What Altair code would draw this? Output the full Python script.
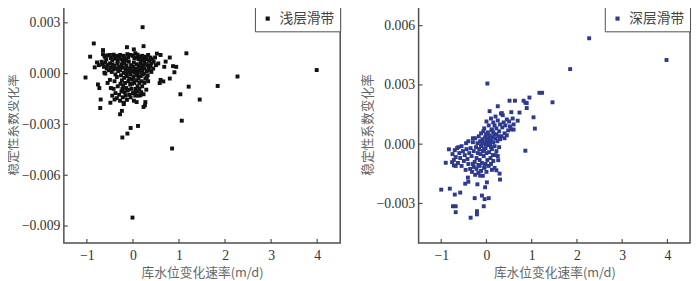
import altair as alt
import pandas as pd

# ---------------- data ----------------
# 浅层滑带: x = 库水位变化速率 (m/d), y = 稳定性系数变化率
shallow_x = [
    0.21, -0.85, -0.93, -1.03, 3.99, 2.27, 1.84, 1.45, 1.21, 1.03, 1.16, 1.06, 0.85, -0.01, 0.11, -0.05,
    -0.12, -0.23, -0.24, -0.28, -0.70, -0.71, -0.76, -0.73, 0.26, 0.23, 0.27, 0.08, -0.49, -0.40, -0.20,
    0.16, 0.23, 0.29, 0.60, 0.58, 0.80, 0.90, 0.87, 0.94, 0.80, 0.71, 0.68, 0.60, 0.52, 0.66, 0.02, -0.13,
    0.23, -0.65, -0.83, -0.78, -0.74, -0.60, -0.50,
    -0.65, -0.62, -0.60, -0.58, -0.55, -0.50, -0.48, -0.45, -0.42, -0.40, -0.38, -0.35, -0.33, -0.30, -0.28,
    -0.25, -0.22, -0.20, -0.18, -0.15, -0.12, -0.10, -0.05, 0.00, 0.03, 0.05, 0.08, 0.10, 0.12, 0.15, 0.18,
    0.20, 0.22, 0.25, 0.28, 0.30, 0.33, 0.35, 0.38, 0.40, 0.42, 0.45, 0.48, 0.50, 0.55, 0.32,
    -0.68, -0.66, -0.63, -0.60, -0.57, -0.55, -0.52, -0.50, -0.48, -0.46, -0.44, -0.42, -0.40, -0.38, -0.36,
    -0.34, -0.32, -0.30, -0.62,
    -0.28, -0.26, -0.25, -0.24, -0.22, -0.21, -0.20, -0.19, -0.18, -0.17, -0.16, -0.15, -0.14, -0.13, -0.12,
    -0.11, -0.10, -0.09, -0.08, -0.07, -0.06, -0.05, -0.04, -0.03, -0.02, -0.01, 0.00, 0.01, 0.02, 0.03,
    0.04, 0.05, 0.06, 0.07, 0.08, 0.09, 0.10, 0.11, 0.12, 0.13, 0.14, 0.15, 0.16, 0.17, 0.18, 0.19, 0.20,
    0.21, 0.22, 0.24, 0.25, 0.27, 0.28, 0.30, 0.32, 0.34, 0.36, 0.38, 0.40, 0.44, -0.27, -0.23, -0.18,
    -0.08, 0.00, 0.06, 0.12, -0.02, -0.10, 0.03, -0.06, 0.08, -0.15, 0.14,
    -0.45, -0.42, -0.38, -0.35, -0.33, -0.30, -0.28, -0.25, -0.22, -0.20, -0.16, -0.13, -0.10, -0.05, 0.02,
    0.05, 0.10, 0.14, 0.18, 0.20, 0.25, -0.55, -0.48, -0.40, -0.35, 0.33, 0.30,
]
shallow_y = [
    0.00274, 0.00178, 0.00100, -0.00023, 0.00021, -0.00017, -0.00073, -0.00153, -0.00077, -0.00122, 0.00120,
    -0.00278, -0.00442, -0.00850, -0.00309, -0.00321, -0.00354, -0.00377, -0.00220, -0.00240, -0.00153,
    -0.00203, -0.00064, -0.00085, -0.00187, -0.00197, -0.00168, -0.00168, -0.00172, -0.00153, -0.00172,
    -0.00128, -0.00122, -0.00095, -0.00037, -0.00056, -0.00029, 0.00008, 0.00044, 0.00040, 0.00095, 0.00071,
    0.00040, 0.00110, 0.00118, -0.00046, 0.00143, 0.00156, 0.00162, 0.00139, 0.00037, 0.00066, 0.00050,
    0.00000, -0.00037,
    0.00115, 0.00105, 0.00095, 0.00085, 0.00108, 0.00110, 0.00092, 0.00080, 0.00112, 0.00100, 0.00088,
    0.00105, 0.00075, 0.00095, 0.00110, 0.00085, 0.00070, 0.00105, 0.00092, 0.00080, 0.00115, 0.00095,
    0.00110, 0.00105, 0.00090, 0.00120, 0.00095, 0.00112, 0.00085, 0.00100, 0.00078, 0.00105, 0.00090,
    0.00070, 0.00100, 0.00085, 0.00110, 0.00075, 0.00095, 0.00060, 0.00085, 0.00070, 0.00095, 0.00050,
    0.00060, 0.00050,
    0.00070, 0.00055, 0.00040, 0.00065, 0.00030, 0.00050, 0.00020, 0.00060, 0.00035, 0.00010, 0.00055,
    0.00025, 0.00045, -0.00005, 0.00030, 0.00060, 0.00015, 0.00040, 0.00005,
    0.00020, -0.00010, 0.00055, -0.00040, 0.00035, -0.00070, 0.00005, -0.00025, 0.00060, -0.00055, 0.00025,
    -0.00085, 0.00045, -0.00015, -0.00100, 0.00010, -0.00045, 0.00070, -0.00030, 0.00030, -0.00065,
    -0.00005, 0.00050, -0.00090, 0.00015, -0.00035, 0.00040, -0.00020, 0.00065, -0.00055, 0.00005,
    -0.00110, 0.00030, -0.00040, 0.00055, -0.00010, -0.00075, 0.00020, -0.00030, 0.00045, -0.00055,
    0.00010, 0.00060, -0.00015, 0.00035, -0.00045, 0.00020, -0.00005, 0.00050, 0.00000, 0.00030, -0.00030,
    0.00055, 0.00015, -0.00010, 0.00035, 0.00020, 0.00045, 0.00010, 0.00030, -0.00060, -0.00090, -0.00110,
    -0.00125, -0.00115, -0.00090, -0.00130, -0.00060, 0.00020, 0.00025, 0.00010, 0.00000, 0.00000, 0.00025,
    -0.00130, -0.00090, -0.00115, -0.00145, -0.00075, -0.00125, -0.00160, -0.00105, -0.00140, -0.00180,
    -0.00130, -0.00155, -0.00095, -0.00140, -0.00160, -0.00130, -0.00105, -0.00090, -0.00110, -0.00075,
    -0.00055, -0.00055, -0.00085, -0.00045, -0.00020, -0.00045, -0.00025,
]

# 深层滑带
deep_x = [
    2.27, 3.98, 1.85, 0.02, 1.17, 1.23, 1.46, 0.95, 0.51, 0.63, 0.82, 0.86, 0.89, 0.89, 1.04, 1.07, 0.86,
    0.25, 0.07, 0.34, 0.36, 0.55, 0.73, 0.69, 0.60,
    -1.00, -0.81, -0.70, -0.58, -0.74, -0.68, -0.68, -0.35, -0.26, -0.21, -0.21, -0.10, -0.06, -0.04, 0.05,
    -0.03, 0.01, -0.47, -0.40, -0.41, -0.20, -0.14, 0.22, 0.29, 0.30, 0.26, -0.83, -0.90, -0.76, -0.72,
    0.10, 0.15, 0.18, 0.20, 0.22, 0.25, 0.28, 0.30, 0.32, 0.35, 0.38, 0.40, 0.42, 0.45, 0.48, 0.50, 0.52,
    0.55, 0.33, 0.40, 0.30, 0.45, 0.60, 0.58, 0.22, 0.15, 0.05, 0.00, -0.05, 0.12,
    -0.35, -0.33, -0.30, -0.28, -0.26, -0.25, -0.23, -0.22, -0.20, -0.19, -0.18, -0.17, -0.16, -0.15, -0.14,
    -0.13, -0.12, -0.11, -0.10, -0.09, -0.08, -0.07, -0.06, -0.05, -0.04, -0.03, -0.02, -0.01, 0.00, 0.01,
    0.02, 0.03, 0.04, 0.05, 0.06, 0.07, 0.08, 0.09, 0.10, 0.11, 0.12, 0.13, 0.14, 0.15, 0.17, 0.18, 0.20,
    0.22, 0.24, 0.25, 0.27, 0.28, -0.02, 0.03, -0.08, 0.00, 0.06, -0.12, 0.10, -0.05,
    -0.75, -0.72, -0.70, -0.68, -0.65, -0.63, -0.60, -0.58, -0.55, -0.52, -0.50, -0.48, -0.46, -0.44, -0.42,
    -0.40, -0.38, -0.36, -0.55, -0.62, -0.45, -0.40, -0.30, -0.68,
    -0.32, -0.28, -0.25, -0.22, -0.18, -0.15, -0.12, -0.08, -0.05, 0.00, 0.05, 0.10, 0.15, 0.18, 0.20,
    -0.30, -0.02, 0.12,
]
deep_y = [
    0.00536, 0.00426, 0.00380, 0.00307, 0.00260, 0.00260, 0.00212, 0.00236, 0.00220, 0.00220, 0.00220,
    0.00210, 0.00208, 0.00183, 0.00136, 0.00079, -0.00033, 0.00192, 0.00167, 0.00157, 0.00147, 0.00162,
    0.00160, 0.00119, 0.00074,
    -0.00230, -0.00225, -0.00255, -0.00245, -0.00314, -0.00314, -0.00344, -0.00372, -0.00273, -0.00339,
    -0.00355, -0.00260, -0.00314, -0.00278, -0.00273, -0.00218, -0.00193, -0.00200, -0.00190, -0.00169,
    -0.00203, -0.00159, -0.00132, -0.00149, -0.00179, -0.00081, -0.00026, -0.00094, -0.00091, -0.00107,
    0.00130, 0.00110, 0.00095, 0.00140, 0.00080, 0.00120, 0.00065, 0.00100, 0.00155, 0.00085, 0.00110,
    0.00055, 0.00095, 0.00125, 0.00070, 0.00115, 0.00090, 0.00075, 0.00040, 0.00030, 0.00025, 0.00045,
    0.00100, 0.00130, 0.00050, 0.00060, 0.00095, 0.00115, 0.00080, 0.00075,
    -0.00020, -0.00060, 0.00010, -0.00035, -0.00090, 0.00030, -0.00015, -0.00070, 0.00005, -0.00045,
    -0.00105, 0.00040, -0.00025, -0.00080, 0.00015, -0.00050, 0.00055, -0.00010, -0.00095, 0.00025,
    -0.00035, 0.00065, -0.00060, 0.00005, -0.00115, 0.00035, -0.00020, 0.00050, -0.00045, 0.00015,
    -0.00080, 0.00060, -0.00005, 0.00030, -0.00040, 0.00045, 0.00000, -0.00070, 0.00020, 0.00070,
    -0.00025, 0.00035, -0.00055, 0.00010, 0.00050, -0.00010, 0.00030, -0.00035, 0.00015, -0.00060,
    0.00040, -0.00015, 0.00000, 0.00010, 0.00010, 0.00025, 0.00005, -0.00005, -0.00015, -0.00025,
    -0.00050, -0.00080, -0.00030, -0.00065, -0.00020, -0.00095, -0.00045, -0.00070, -0.00110, -0.00035,
    -0.00085, -0.00055, -0.00130, -0.00025, -0.00075, -0.00100, -0.00045, -0.00125, -0.00010, -0.00015,
    0.00005, 0.00015, 0.00030, -0.00110,
    -0.00140, -0.00115, -0.00155, -0.00125, -0.00145, -0.00110, -0.00135, -0.00160, -0.00120, -0.00140,
    -0.00110, -0.00100, -0.00085, -0.00120, -0.00055, -0.00100, -0.00100, -0.00130,
]

x_ticks = [-1, 0, 1, 2, 3, 4]
y_ticks_shallow = [0.003, 0.0, -0.003, -0.006, -0.009]
y_ticks_deep = [0.006, 0.003, 0.0, -0.003]

X_TITLE = "库水位变化速率(m/d)"
Y_TITLE = "稳定性系数变化率"
H = 242
FRAME = "#4d4d4d"


def panel(xs, ys, name, color, ydom, yticks, width):
    df = pd.DataFrame({"x": xs, "y": ys, "series": [name] * len(xs)})
    xscale = alt.Scale(domain=[-1.5, 4.5], nice=False, zero=False)
    yscale = alt.Scale(domain=ydom, nice=False, zero=False)
    xaxis = alt.Axis(values=x_ticks, format="d", title=X_TITLE)
    yaxis = alt.Axis(values=yticks, format=".3f", title=Y_TITLE)

    pts = alt.Chart(df).mark_square(size=16, opacity=1).encode(
        x=alt.X("x:Q", scale=xscale, axis=xaxis),
        y=alt.Y("y:Q", scale=yscale, axis=yaxis),
        color=alt.Color(
            "series:N",
            scale=alt.Scale(domain=[name], range=[color]),
            legend=alt.Legend(
                title=None, orient="top-right", offset=0, strokeColor=FRAME, fillColor="white",
                padding=6, symbolType="square", symbolSize=18, labelFont="Noto Sans CJK SC",
                labelFontSize=14, labelColor="#444", labelOffset=5,
            ),
        ),
    )
    xt = alt.Chart(pd.DataFrame({"x": x_ticks})).mark_rule(color=FRAME, strokeWidth=1.2).encode(
        x=alt.X("x:Q", scale=xscale, axis=xaxis), y=alt.value(H), y2=alt.value(H - 4)
    )
    yt = alt.Chart(pd.DataFrame({"y": yticks})).mark_rule(color=FRAME, strokeWidth=1.2).encode(
        y=alt.Y("y:Q", scale=yscale, axis=yaxis), x=alt.value(0), x2=alt.value(4)
    )
    return alt.layer(pts, xt, yt).properties(width=width, height=H)


left = panel(shallow_x, shallow_y, "浅层滑带", "#111111", [-0.010, 0.004], y_ticks_shallow, 282)
right = panel(deep_x, deep_y, "深层滑带", "#2e3a8f", [-0.005, 0.007], y_ticks_deep, 277)

chart = alt.hconcat(left, right, spacing=18).resolve_scale(color="independent").properties(
    padding={"left": -3, "top": -7, "right": 0, "bottom": 0}
).configure_view(stroke=FRAME, strokeWidth=1.5).configure_legend(
    labelFontSize=14, labelFont="Noto Sans CJK SC"
).configure_axis(
    domain=False, ticks=False, grid=False,
    labelFont="Liberation Serif", labelFontSize=14, labelColor="#333",
    titleFont="Noto Sans CJK SC", titleFontSize=13, titleFontWeight="normal", titleColor="#666",
).configure_axisY(labelPadding=4, titlePadding=2).configure_axisX(labelPadding=6, titlePadding=4)

chart.save("out.html", embed_options={"renderer": "svg", "actions": False})
